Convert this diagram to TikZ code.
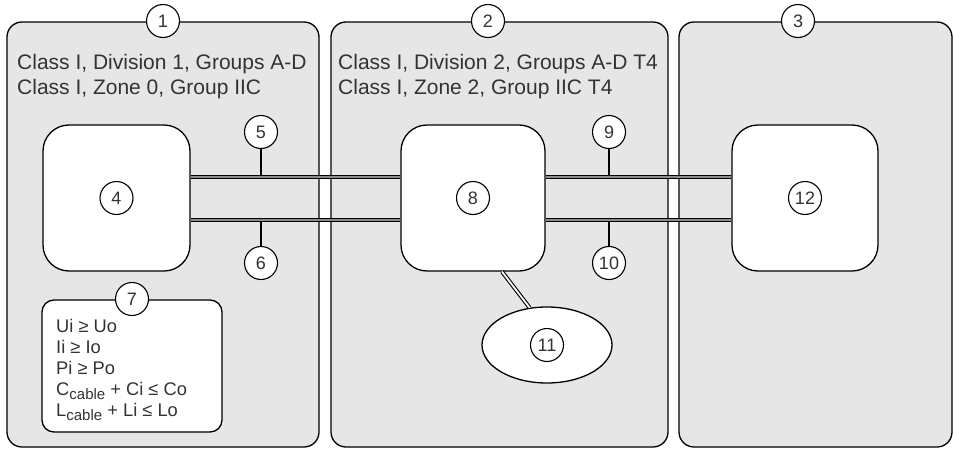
\documentclass[tikz,border=0pt]{standalone}
\usepackage{fontspec}
\setmainfont{Liberation Sans}
\usetikzlibrary{shapes.geometric,calc}
\definecolor{panelfill}{HTML}{E6E6E6}
\definecolor{txt}{HTML}{333333}
\definecolor{cablegray}{HTML}{8C8C8C}
\newcommand{\cabsub}{\raisebox{-4.5pt}{\fontsize{15}{15}\selectfont cable}}
\begin{document}
\begin{tikzpicture}[x=1pt,y=-1pt,
  panel/.style={draw=black, line width=1.3pt, fill=panelfill, rounded corners=15pt, inner sep=0pt},
  num/.style={circle, draw=black, line width=1.1pt, fill=white, minimum size=33pt, inner sep=0pt, font=\fontsize{18}{20}\selectfont, text=txt},
  devbox/.style={draw=black, line width=1.3pt, fill=white, rounded corners=26pt, minimum width=146pt, minimum height=146pt, inner sep=0pt},
  cable/.style={draw=black, line width=1.1pt, double=cablegray, double distance=1.8pt},
  cablew/.style={draw=black, line width=1.1pt, double=white, double distance=1.8pt},
  leader/.style={draw=black, line width=1.1pt},
  ztext/.style={anchor=north west, inner sep=0pt, align=left, text=txt, font=\fontsize{21}{25}\selectfont},
  eqtext/.style={anchor=north west, inner sep=0pt, align=left, text=txt, font=\fontsize{18.3}{21}\selectfont}
]
\useasboundingbox[fill=white] (0,0) rectangle (956,450);

% panels
\node[panel, minimum width=312pt, minimum height=425pt] (p1) at (163,234.5) {};
\node[panel, minimum width=337pt, minimum height=425pt] (p2) at (499.5,234.5) {};
\node[panel, minimum width=273pt, minimum height=425pt] (p3) at (815.5,234.5) {};

\node[num] (n1) at (163,21) {1};
\node[num] (n2) at (488,21) {2};
\node[num] (n3) at (798,21) {3};

\node[ztext] (t1) at (17,54) {Class I, Division 1, Groups A-D\\Class I, Zone 0, Group IIC};
\node[ztext] (t2) at (338,54) {Class I, Division 2, Groups A-D T4\\Class I, Zone 2, Group IIC T4};

% device boxes
\node[devbox, minimum width=147pt] (b4) at (116.5,198) {};
\node[devbox, minimum width=144pt] (b8) at (473,198) {};
\node[devbox, minimum width=146pt] (b12) at (805,198) {};
\node[num] (n4) at (b4) {4};
\node[num] (n8) at (b8) {8};
\node[num] (n12) at (b12) {12};

% cables
\draw[cable] ([yshift=21pt]b4.east) -- ([yshift=21pt]b8.west);
\draw[cable] ([yshift=-22pt]b4.east) -- ([yshift=-22pt]b8.west);
\draw[cable] ([yshift=21pt]b8.east) -- ([yshift=21pt]b12.west);
\draw[cable] ([yshift=-22pt]b8.east) -- ([yshift=-22pt]b12.west);

% leaders
\coordinate (c5) at (261,175.5);
\coordinate (c6) at (261,221.5);
\coordinate (c9) at (609,175.5);
\coordinate (c10) at (609,221.5);
\node[num] (n5) at (261,132) {5};
\node[num] (n6) at (261,263) {6};
\node[num] (n9) at (609,132) {9};
\node[num] (n10) at (609,263) {10};
\draw[leader] (n5) -- (c5);
\draw[leader] (n6) -- (c6);
\draw[leader] (n9) -- (c9);
\draw[leader] (n10) -- (c10);

% ellipse 11
\node[ellipse, draw=black, line width=1.3pt, fill=white, minimum width=130pt, minimum height=76pt, inner sep=0pt] (e11) at (547,345) {};
\node[num] (n11) at (e11) {11};
\coordinate (k8) at ([xshift=29pt]b8.south);
\draw[cablew] (k8) -- (e11.115);

% box 7
\node[draw=black, line width=1.3pt, fill=white, rounded corners=12pt, minimum width=180pt, minimum height=132pt, inner sep=0pt] (b7) at (132,366) {};
\node[num] (n7) at (132,299) {7};
\node[eqtext] (eq) at (56,319) {Ui ≥ Uo\\Ii ≥ Io\\Pi ≥ Po\\C\cabsub{} + Ci ≤ Co\\L\cabsub{} + Li ≤ Lo};
\end{tikzpicture}
\end{document}
